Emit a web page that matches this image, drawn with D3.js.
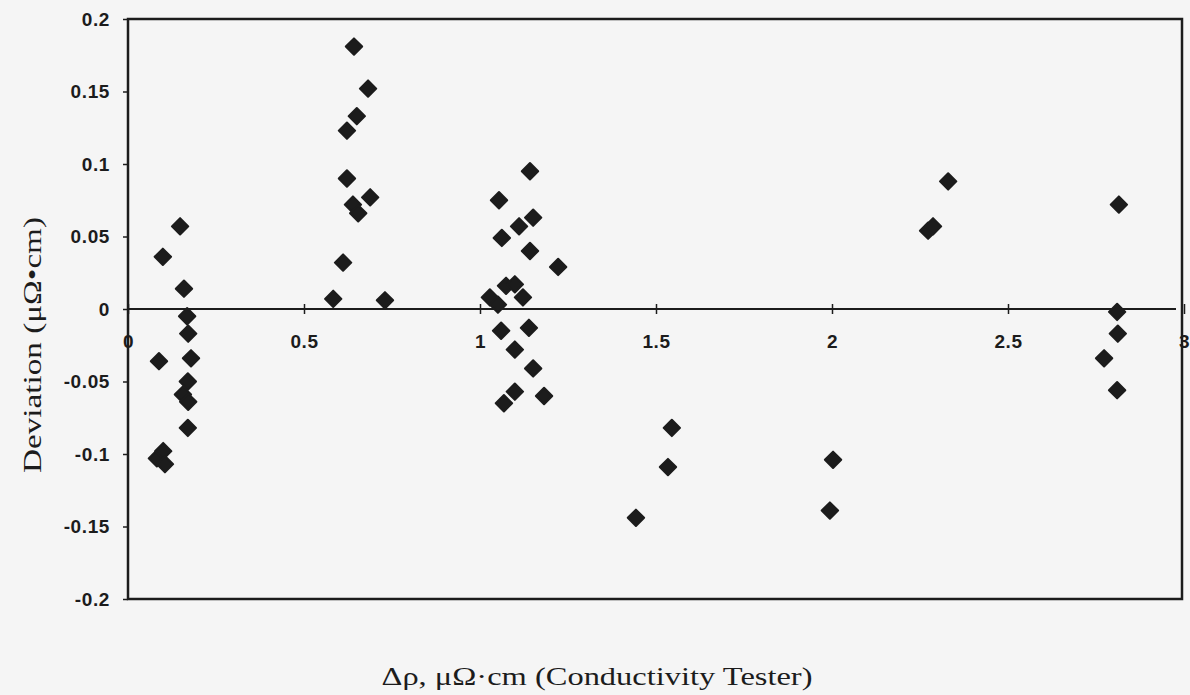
<!DOCTYPE html>
<html>
<head>
<meta charset="utf-8">
<script src="https://cdn.jsdelivr.net/npm/d3@7"></script>
<style>
  html, body { margin: 0; padding: 0; background: #f5f5f5; }
  svg { display: block; }
</style>
</head>
<body>
<svg id="chart" width="1190" height="695"></svg>
<script>
// ---- data ----
const xValues = [
  0.099, 0.148, 0.159, 0.168, 0.171, 0.088, 0.179, 0.170, 0.156, 0.171, 0.170, 0.082, 0.100, 0.105,
  0.583, 0.611, 0.622, 0.622, 0.650, 0.642, 0.682, 0.639, 0.654, 0.688, 0.730,
  1.142, 1.054, 1.151, 1.111, 1.062, 1.142, 1.222, 1.074, 1.099, 1.122, 1.028, 1.051,
  1.060, 1.139, 1.099, 1.151, 1.099, 1.068, 1.182,
  1.545, 1.534, 1.443,
  2.003, 1.994,
  2.330, 2.273, 2.287,
  2.815, 2.810, 2.812, 2.773, 2.810
];
const yValues = [
  0.036, 0.057, 0.014, -0.005, -0.017, -0.036, -0.034, -0.050, -0.059, -0.064, -0.082, -0.103, -0.098, -0.107,
  0.007, 0.032, 0.090, 0.123, 0.133, 0.181, 0.152, 0.072, 0.066, 0.077, 0.006,
  0.095, 0.075, 0.063, 0.057, 0.049, 0.040, 0.029, 0.016, 0.017, 0.008, 0.008, 0.003,
  -0.015, -0.013, -0.028, -0.041, -0.057, -0.065, -0.060,
  -0.082, -0.109, -0.144,
  -0.104, -0.139,
  0.088, 0.054, 0.057,
  0.072, -0.002, -0.017, -0.034, -0.056
];
const xTicks = [0, 0.5, 1, 1.5, 2, 2.5, 3];
const xTickLabels = ["0", "0.5", "1", "1.5", "2", "2.5", "3"];
const yTicks = [0.2, 0.15, 0.1, 0.05, 0, -0.05, -0.1, -0.15, -0.2];
const yTickLabels = ["0.2", "0.15", "0.1", "0.05", "0", "-0.05", "-0.1", "-0.15", "-0.2"];
const xTitle = "Δρ, μΩ·cm (Conductivity Tester)";
const yTitle = "Deviation (μΩ•cm)";

// ---- layout ----
const svg = d3.select("#chart");
const plotL = 128, plotR = 1182, plotT = 19, plotB = 599;
const x = d3.scaleLinear().domain([0, 3]).range([plotL, 1184]);
const y = d3.scaleLinear().domain([-0.2, 0.2]).range([plotB, plotT]);
const ink = "#1c1c1c";

// frame
svg.append("rect")
  .attr("x", plotL).attr("y", plotT)
  .attr("width", plotR - plotL).attr("height", plotB - plotT)
  .attr("fill", "none").attr("stroke", ink).attr("stroke-width", 2.5);

// y axis
const yAxis = d3.axisLeft(y)
  .tickValues(yTicks)
  .tickFormat((d, i) => yTickLabels[i])
  .tickSizeInner(5).tickSizeOuter(0).tickPadding(13);
const gy = svg.append("g").attr("transform", `translate(${plotL},0)`).call(yAxis);
gy.select(".domain").remove();
gy.selectAll(".tick line").attr("stroke", ink).attr("stroke-width", 1.5);
gy.selectAll(".tick text")
  .attr("fill", ink)
  .attr("font-family", "'Liberation Sans', Arial, sans-serif")
  .attr("font-weight", "bold")
  .attr("font-size", 19)
  .attr("letter-spacing", 0.6)
  .attr("dy", "0.34em");

// x axis at y = 0
const xAxis = d3.axisBottom(x)
  .tickValues(xTicks)
  .tickFormat((d, i) => xTickLabels[i])
  .tickSizeInner(4).tickSizeOuter(0);
const gx = svg.append("g").attr("transform", `translate(0,${y(0)})`).call(xAxis);
gx.select(".domain").attr("d", `M${plotL},0H${plotR - 6}`).attr("stroke", ink).attr("stroke-width", 2);
gx.selectAll(".tick line").attr("y1", -5).attr("y2", 5).attr("stroke", ink).attr("stroke-width", 1.5);
gx.selectAll(".tick text")
  .attr("fill", ink)
  .attr("font-family", "'Liberation Sans', Arial, sans-serif")
  .attr("font-weight", "bold")
  .attr("font-size", 19)
  .attr("letter-spacing", 0.6)
  .attr("y", 25.5)
  .attr("dy", "0.71em");

// markers (diamonds)
const data = xValues.map((v, i) => ({ x: v, y: yValues[i] }));
const r = 8.2;
svg.append("g").selectAll("path")
  .data(data)
  .join("path")
  .attr("transform", d => `translate(${x(d.x)},${y(d.y)})`)
  .attr("d", `M0,${-r}L${r},0L0,${r}L${-r},0Z`)
  .attr("fill", ink)
  .attr("stroke", ink)
  .attr("stroke-width", 2)
  .attr("stroke-linejoin", "round");

// titles
svg.append("text")
  .attr("x", 597).attr("y", 685)
  .attr("text-anchor", "middle")
  .attr("font-family", "'Liberation Serif', 'Times New Roman', serif")
  .attr("font-size", 26)
  .attr("fill", ink)
  .attr("textLength", 431)
  .attr("lengthAdjust", "spacingAndGlyphs")
  .text(xTitle);

svg.append("text")
  .attr("transform", "translate(41,345) rotate(-90)")
  .attr("text-anchor", "middle")
  .attr("font-family", "'Liberation Serif', 'Times New Roman', serif")
  .attr("font-size", 26)
  .attr("fill", ink)
  .attr("textLength", 256)
  .attr("lengthAdjust", "spacingAndGlyphs")
  .text(yTitle);
</script>
</body>
</html>
